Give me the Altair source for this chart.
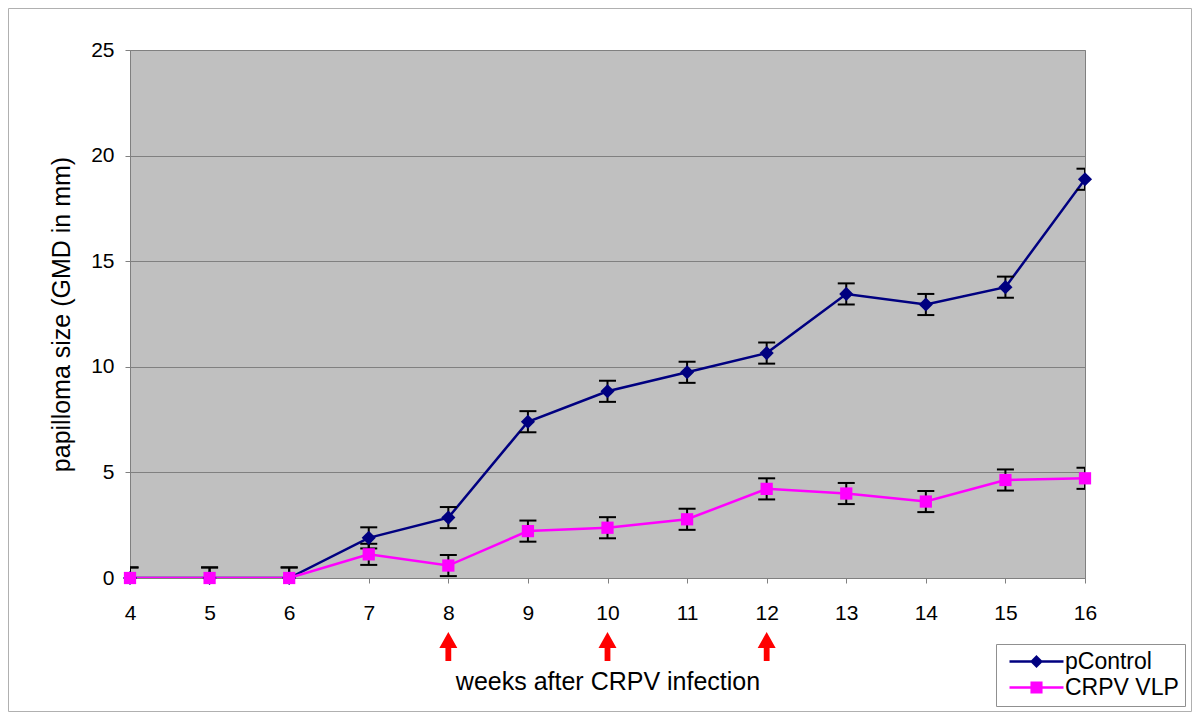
import altair as alt
import pandas as pd

# ---- data ----
weeks = [4, 5, 6, 7, 8, 9, 10, 11, 12, 13, 14, 15, 16]
pcontrol = [0.0, 0.0, 0.0, 1.9, 2.86, 7.4, 8.84, 9.74, 10.65, 13.45, 12.95, 13.77, 18.88]
crpv_vlp = [0.0, 0.0, 0.0, 1.12, 0.59, 2.22, 2.38, 2.78, 4.22, 4.0, 3.62, 4.64, 4.72]
pcontrol_err = [0.5, 0.5, 0.5, 0.5, 0.5, 0.5, 0.5, 0.5, 0.5, 0.5, 0.5, 0.5, 0.5]
crpv_vlp_err = [0.5, 0.5, 0.5, 0.5, 0.5, 0.5, 0.5, 0.5, 0.5, 0.5, 0.5, 0.5, 0.5]
series_names = ["pControl", "CRPV VLP"]
series_colors = ["#000080", "#FF00FF"]
series_shapes = ["diamond", "square"]
series_marker_sizes = [200, 150]
arrow_weeks = [8, 10, 12]
x_tick_values = [4, 4.5, 5, 5.5, 6, 6.5, 7, 7.5, 8, 8.5, 9, 9.5, 10, 10.5,
                 11, 11.5, 12, 12.5, 13, 13.5, 14, 14.5, 15, 15.5, 16]
y_tick_values = [0, 5, 10, 15, 20, 25]

FONT = "Liberation Sans"
W, H = 955, 528
PAD = {"left": 122, "top": 42, "right": 107, "bottom": 134}

rows = []
for name, vals, errs in ((series_names[0], pcontrol, pcontrol_err),
                         (series_names[1], crpv_vlp, crpv_vlp_err)):
    for w, v, e in zip(weeks, vals, errs):
        rows.append({"week": w, "value": v, "series": name, "lo": v - e, "hi": v + e})
df = pd.DataFrame(rows)
arrows_df = pd.DataFrame({"week": arrow_weeks})

x_scale = alt.Scale(domain=[4, 16], nice=False, zero=False)
y_scale = alt.Scale(domain=[0, 25], nice=False)

x_axis = alt.Axis(values=x_tick_values, format="d",
                  labelExpr="datum.value % 1 === 0 ? datum.label : ''", labelFlush=False,
                  title="weeks after CRPV infection", grid=False, tickSize=5, tickColor="#808080",
                  domainColor="#808080", labelPadding=19, titlePadding=46)
y_axis = alt.Axis(values=y_tick_values, title="papilloma size (GMD in mm)", grid=True,
                  gridColor="#808080", gridWidth=1, tickSize=5, tickColor="#808080",
                  domainColor="#808080", labelPadding=11, titlePadding=16)

base = alt.Chart(df)

# series lines (one layer per series, pControl first, CRPV VLP on top)
line_layers = []
point_layers = []
for name, col, shp, sz in zip(series_names, series_colors, series_shapes, series_marker_sizes):
    sub = base.transform_filter(alt.datum.series == name)
    line_layers.append(sub.mark_line(strokeWidth=2.5, color=col, clip=True).encode(
        x=alt.X("week:Q", scale=x_scale, axis=x_axis),
        y=alt.Y("value:Q", scale=y_scale, axis=y_axis),
    ))
    point_layers.append(sub.mark_point(filled=True, opacity=1, size=sz, shape=shp, color=col).encode(
        x="week:Q", y="value:Q",
    ))

err_rules = base.mark_rule(color="black", strokeWidth=2, clip=True).encode(
    x="week:Q", y="lo:Q", y2="hi:Q",
)
err_caps_hi = base.mark_tick(color="black", thickness=2, size=17, orient="horizontal",
                             opacity=1, clip=True).encode(x="week:Q", y="hi:Q")
err_caps_lo = base.mark_tick(color="black", thickness=2, size=17, orient="horizontal",
                             opacity=1, clip=True).encode(x="week:Q", y="lo:Q")

# legend symbols (stroked): a line segment with the series marker drawn as nested outlines
legend_p = ("M-2.7,0H2.7M0,-0.47L0.47,0L0,0.47L-0.47,0Z"
            "M0,-0.22L0.22,0L0,0.22L-0.22,0ZM0,-0.02L0.02,0L0,0.02L-0.02,0Z")
legend_c = ("M-2.7,0H2.7M-0.48,-0.48H0.48V0.48H-0.48Z"
            "M-0.24,-0.24H0.24V0.24H-0.24ZM-0.03,-0.03H0.03V0.03H-0.03Z")

legend = alt.Legend(
    title=None, orient="none", legendX=866, legendY=594, padding=6,
    fillColor="white", strokeColor="#909090",
    labelFont=FONT, labelFontSize=23, labelColor="black",
    symbolSize=400, symbolOffset=23, labelOffset=17,
    symbolStrokeWidth=2.5, symbolOpacity=1,
)

# legend-carrying layer: no rows drawn, scales have explicit domains
legend_layer = base.transform_filter("false").mark_point(filled=False, strokeWidth=2.5, opacity=1).encode(
    x="week:Q", y="value:Q",
    color=alt.Color("series:N", scale=alt.Scale(domain=series_names, range=series_colors), legend=legend),
    shape=alt.Shape("series:N", scale=alt.Scale(domain=series_names, range=[legend_p, legend_c]),
                    legend=legend),
)

arrow_path = "M0,-1L0.62,0.1L0.2,0.1L0.2,1L-0.2,1L-0.2,0.1L-0.62,0.1Z"
arrows = alt.Chart(arrows_df).mark_point(shape=arrow_path, filled=True, color="#FF0000",
                                         opacity=1, size=841).encode(
    x="week:Q", y=alt.value(H + 68.5),
)

frame = alt.Chart(alt.Data(values=[{}])).mark_rect(fill=None, stroke="#B0B0B0", strokeWidth=1).encode(
    x=alt.value(-PAD["left"] + 0.5), x2=alt.value(W + PAD["right"] - 0.5),
    y=alt.value(-PAD["top"] + 0.5), y2=alt.value(H + PAD["bottom"] - 0.5),
)

chart = alt.layer(frame, *line_layers, err_rules, err_caps_hi, err_caps_lo, *point_layers,
                  arrows, legend_layer).properties(
    width=W, height=H, padding=PAD, autosize=alt.AutoSizeParams(type="none"),
    background="white",
).configure_view(
    fill="#C0C0C0", stroke="#808080", strokeWidth=1,
).configure_axis(
    labelFont=FONT, labelFontSize=21, labelColor="black",
    titleFont=FONT, titleFontSize=25, titleColor="black", titleFontWeight="normal",
)

chart.save("out.html", embed_options={"renderer": "svg", "actions": False})
